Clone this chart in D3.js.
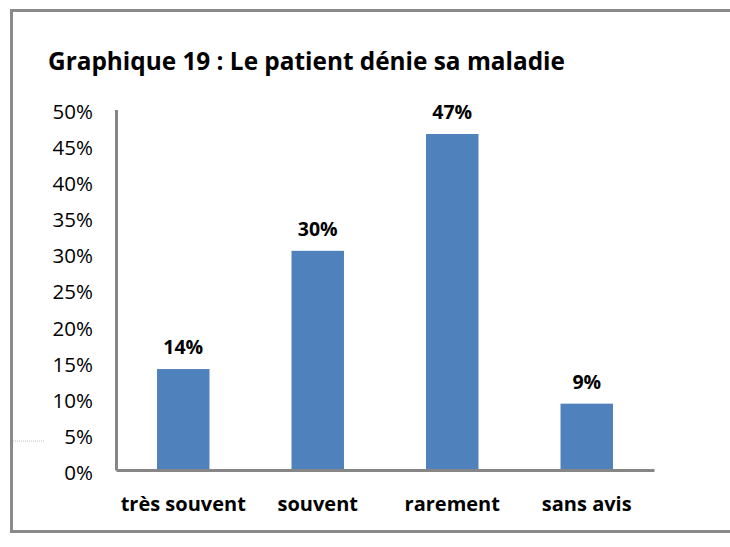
<!DOCTYPE html>
<html>
<head>
<meta charset="utf-8">
<script src="https://cdn.jsdelivr.net/npm/d3@7"></script>
<style>
  body { margin: 0; background: #fff; }
  svg { display: block; }
  text { font-family: "Open Sans", "Liberation Sans", sans-serif; fill: #000; }
</style>
</head>
<body>
<svg width="730" height="547"></svg>
<script>
// Chart data
const categories = ["très souvent", "souvent", "rarement", "sans avis"];
const values = [14.0, 30.4, 46.6, 9.2];
const valueLabels = ["14%", "30%", "47%", "9%"];
const yTicks = [0, 5, 10, 15, 20, 25, 30, 35, 40, 45, 50];
const title = "Graphique 19 : Le patient dénie sa maladie";

const svg = d3.select("svg");
const axisColor = "#868686";

// Outer frame (right side is cut off in the picture)
svg.append("path")
    .attr("d", "M740,10.5 H11.5 V531.5 H740")
    .attr("fill", "none")
    .attr("stroke", "#8a8a8a")
    .attr("stroke-width", 3);

// stray hairline on the left edge
svg.append("line")
    .attr("x1", 13).attr("x2", 44)
    .attr("y1", 441).attr("y2", 441)
    .attr("stroke", "#999")
    .attr("stroke-width", 0.6)
    .attr("stroke-dasharray", "1,1");

// Title, squeezed to the reference width
const titleText = svg.append("text")
    .attr("x", 48)
    .attr("y", 70)
    .attr("font-size", 24)
    .attr("font-weight", "bold")
    .text(title);
const tw = titleText.node().getComputedTextLength();
titleText.attr("font-size", 24 * 517 / tw);

// Scales
const x = d3.scaleBand()
    .domain(categories)
    .range([116, 654])
    .paddingInner(0.61)
    .paddingOuter(0.305);

const y = d3.scaleLinear()
    .domain([0, 50])
    .range([470, 109.5]);

// Bars
svg.selectAll("rect.bar")
    .data(values)
    .join("rect")
    .attr("class", "bar")
    .attr("x", (d, i) => x(categories[i]))
    .attr("y", d => y(d))
    .attr("width", x.bandwidth())
    .attr("height", d => y(0) - y(d))
    .attr("fill", "#4f81bd");

// Value labels
svg.selectAll("text.val")
    .data(values)
    .join("text")
    .attr("class", "val")
    .attr("x", (d, i) => x(categories[i]) + x.bandwidth() / 2)
    .attr("y", d => y(d) - 15)
    .attr("text-anchor", "middle")
    .attr("font-size", 19.5)
    .attr("font-weight", "bold")
    .text((d, i) => valueLabels[i]);

// Y axis
const yAxis = d3.axisLeft(y)
    .tickValues(yTicks)
    .tickSize(0)
    .tickPadding(23)
    .tickFormat(d => d + "%");
const gy = svg.append("g")
    .attr("transform", "translate(116,0)")
    .call(yAxis);
gy.select(".domain").attr("stroke", axisColor).attr("stroke-width", 3);
gy.selectAll("text")
    .attr("font-size", 20.5)
    .attr("dy", "0.45em")
    .style("font-family", "'Open Sans', sans-serif");

// X axis
const xAxis = d3.axisBottom(x).tickSize(0).tickPadding(27);
const gx = svg.append("g")
    .attr("transform", "translate(0,470)")
    .call(xAxis);
gx.select(".domain").attr("stroke", axisColor).attr("stroke-width", 3);
gx.selectAll("text")
    .attr("font-size", 20)
    .attr("font-weight", "bold")
    .style("font-family", "'Open Sans', sans-serif");
</script>
</body>
</html>
